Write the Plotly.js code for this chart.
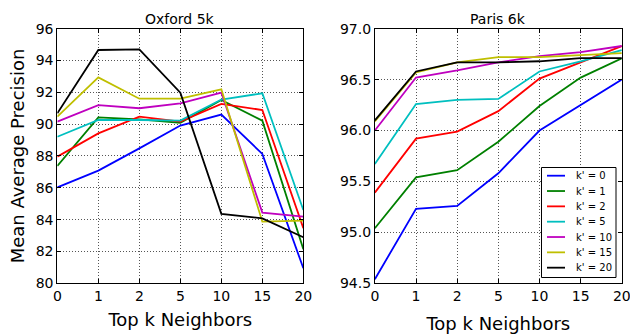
<!DOCTYPE html>
<html><head><meta charset="utf-8">
<script src="https://cdn.plot.ly/plotly-3.0.1.min.js"></script>
<style>body{margin:0;padding:0;background:#fff}#chart{width:630px;height:336px}</style>
</head><body><div id="chart"></div>
<script>
const categories = ['0','1','2','5','10','15','20'];
const seriesNames = ["k' = 0","k' = 1","k' = 2","k' = 5","k' = 10","k' = 15","k' = 20"];
const colors = ['#0000ff','#008000','#ff0000','#00bfbf','#bf00bf','#bfbf00','#000000'];

const oxford_k0  = [86.03, 87.08, 88.48, 89.91, 90.60, 88.13, 80.94];
const oxford_k1  = [87.37, 90.43, 90.30, 90.09, 91.52, 90.22, 82.14];
const oxford_k2  = [87.96, 89.42, 90.47, 90.16, 91.27, 90.89, 83.46];
const oxford_k5  = [89.21, 90.26, 90.26, 90.22, 91.55, 91.94, 84.60];
const oxford_k10 = [90.16, 91.20, 91.00, 91.31, 91.98, 84.44, 84.19];
const oxford_k15 = [90.47, 92.94, 91.60, 91.60, 92.19, 83.87, 83.94];
const oxford_k20 = [90.68, 94.66, 94.70, 91.98, 84.36, 84.08, 82.89];

const paris_k0  = [94.54, 95.23, 95.26, 95.58, 96.00, 96.25, 96.50];
const paris_k1  = [95.04, 95.54, 95.61, 95.89, 96.24, 96.52, 96.71];
const paris_k2  = [95.39, 95.92, 95.99, 96.19, 96.51, 96.67, 96.83];
const paris_k5  = [95.67, 96.26, 96.30, 96.31, 96.58, 96.68, 96.79];
const paris_k10 = [96.00, 96.52, 96.59, 96.67, 96.73, 96.77, 96.83];
const paris_k15 = [96.09, 96.57, 96.67, 96.72, 96.72, 96.74, 96.76];
const paris_k20 = [96.10, 96.58, 96.67, 96.67, 96.68, 96.71, 96.71];

const oxford = [oxford_k0, oxford_k1, oxford_k2, oxford_k5, oxford_k10, oxford_k15, oxford_k20];
const paris = [paris_k0, paris_k1, paris_k2, paris_k5, paris_k10, paris_k15, paris_k20];

const W = 630, H = 336;
const traces = [];
oxford.forEach((v,i)=>traces.push({x:categories,y:v,type:'scatter',mode:'lines',name:seriesNames[i],
  line:{color:colors[i],width:1.8},xaxis:'x',yaxis:'y',showlegend:false}));
paris.forEach((v,i)=>traces.push({x:categories,y:v,type:'scatter',mode:'lines',name:seriesNames[i],
  line:{color:colors[i],width:1.8},xaxis:'x2',yaxis:'y2',showlegend:false}));

const font = {family:'DejaVu Sans, sans-serif', color:'#000'};
const axBase = {showline:true,linecolor:'#000',linewidth:1,mirror:'ticks',ticks:'inside',ticklen:4,tickcolor:'#000',
  showgrid:true,gridcolor:'#555',griddash:'1px,2px',gridwidth:1,zeroline:false,tickfont:{...font,size:14}};

// custom legend box (matplotlib-style compact legend)
const px = x => x / W, py = y => 1 - y / H;
const shapes = [{type:'rect',xref:'paper',yref:'paper',x0:px(541.5),x1:px(616),y0:py(167.5),y1:py(277.5),
  line:{color:'#000',width:1},fillcolor:'#fff',layer:'above'}];
const annotations = [
  {text:'Oxford 5k',xref:'paper',yref:'paper',x:(0.091+0.4815)/2,y:0.9146,yanchor:'bottom',xanchor:'center',showarrow:false,font:{...font,size:14}},
  {text:'Paris 6k',xref:'paper',yref:'paper',x:(0.595+0.987)/2,y:0.9146,yanchor:'bottom',xanchor:'center',showarrow:false,font:{...font,size:14}}
];
seriesNames.forEach((n,i)=>{
  const yc = 175.7 + i*15.33;
  shapes.push({type:'line',xref:'paper',yref:'paper',x0:px(547),x1:px(565),y0:py(yc),y1:py(yc),
    line:{color:colors[i],width:1.8},layer:'above'});
  annotations.push({text:n,xref:'paper',yref:'paper',x:px(575),y:py(yc),xanchor:'left',yanchor:'middle',
    showarrow:false,font:{...font,size:10},borderpad:0});
});

const layout = {
  width:W,height:H,margin:{l:0,r:0,t:0,b:0},paper_bgcolor:'#fff',plot_bgcolor:'#fff',font:font,showlegend:false,
  xaxis:{...axBase,type:'category',domain:[0.091,0.4815],range:[0,6],anchor:'y',
    title:{text:'Top k Neighbors',font:{...font,size:18},standoff:10}},
  yaxis:{...axBase,domain:[0.157,0.9146],range:[80,96],dtick:2,anchor:'x',
    title:{text:'Mean Average Precision',font:{...font,size:18},standoff:6}},
  xaxis2:{...axBase,type:'category',domain:[0.595,0.987],range:[0,6],anchor:'y2',
    title:{text:'Top k Neighbors',font:{...font,size:18},standoff:14}},
  yaxis2:{...axBase,domain:[0.157,0.9146],range:[94.5,97.0],dtick:0.5,tickformat:'.1f',anchor:'x2'},
  shapes:shapes, annotations:annotations
};
Plotly.newPlot('chart',traces,layout,{displayModeBar:false,staticPlot:true});
</script></body></html>
